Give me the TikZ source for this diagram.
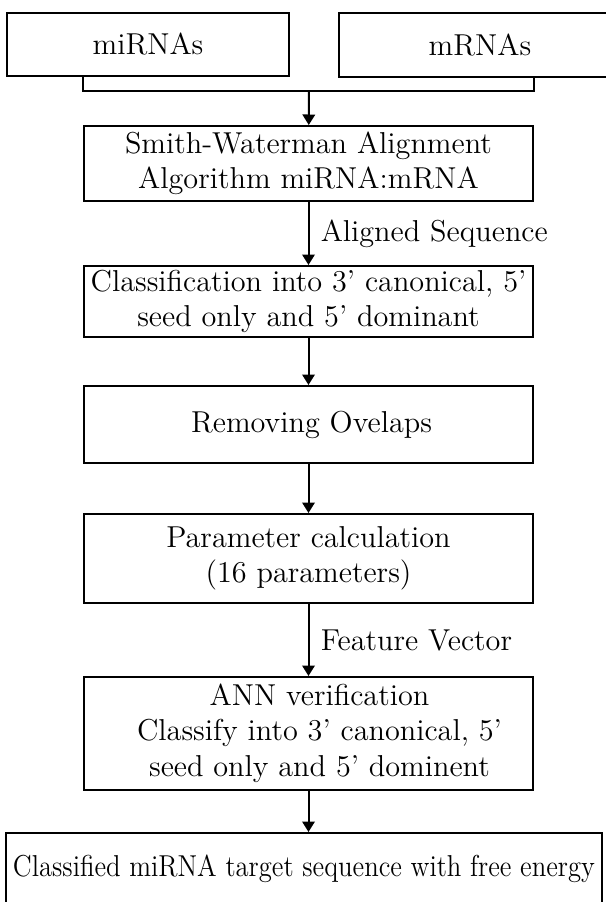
\documentclass[tikz,border=0pt]{standalone}
\usetikzlibrary{arrows.meta,calc}
\begin{document}
\begin{tikzpicture}[x=0.4pt,y=-0.4pt,
  box/.style={draw,line width=0.8pt,rectangle,align=center,inner sep=0pt,
    font=\fontsize{12.1}{14.2}\selectfont},
  arr/.style={line width=0.8pt,-{Triangle[width=5pt,length=4.2pt]}},
  lnk/.style={line width=0.8pt},
  lbl/.style={right,xshift=2.5pt,inner sep=2pt,font=\fontsize{12.1}{14.2}\selectfont}]
\useasboundingbox (0,0) rectangle (606,902);
\node[box,minimum width=112.8pt,minimum height=25.2pt] (mi) at (148,44.5) {miRNAs};
\node[box,minimum width=112.8pt,minimum height=25.6pt] (mr) at (480,45) {mRNAs};
\node[box,minimum width=179.6pt,minimum height=30pt] (sw) at (308.5,163.5) {Smith-Waterman Alignment\\Algorithm miRNA:mRNA};
\node[box,minimum width=179.6pt,minimum height=28.4pt] (cl) at (308.5,301.5) {Classification into 3' canonical, 5'\\seed only and 5' dominant};
\node[box,minimum width=179.6pt,minimum height=30.8pt] (ro) at (308.5,424.5) {\hspace*{2.4pt}Removing Ovelaps};
\node[box,minimum width=179.6pt,minimum height=35.6pt] (pc) at (308.5,558.5) {Parameter calculation\\(16 parameters)};
\node[box,minimum width=179.6pt,minimum height=45.2pt] (an) at (308.5,733.5) {\hspace*{8.8pt}\begin{tabular}{@{}c@{}}ANN verification\\Classify into 3' canonical, 5'\\seed only and 5' dominent\end{tabular}};
\node[box,minimum width=238.4pt,minimum height=28.8pt] (fi) at (304,869) {\resizebox{232.8pt}{\height}{Classified miRNA target sequence with free energy}};
\coordinate (j) at (309,91);
\draw[lnk] (mi.south -| sw.west) -- (sw.west |- j) -- (sw.east |- j) -- (mr.south -| sw.east);
\draw[arr] (j) -- (sw);
\draw[arr] (sw) -- node[lbl] {Aligned Sequence} (cl);
\draw[arr] (cl) -- (ro);
\draw[arr] (ro) -- (pc);
\draw[arr] (pc) -- node[lbl] {Feature Vector} (an);
\draw[arr] (an) -- (an |- fi.north);
\end{tikzpicture}
\end{document}
